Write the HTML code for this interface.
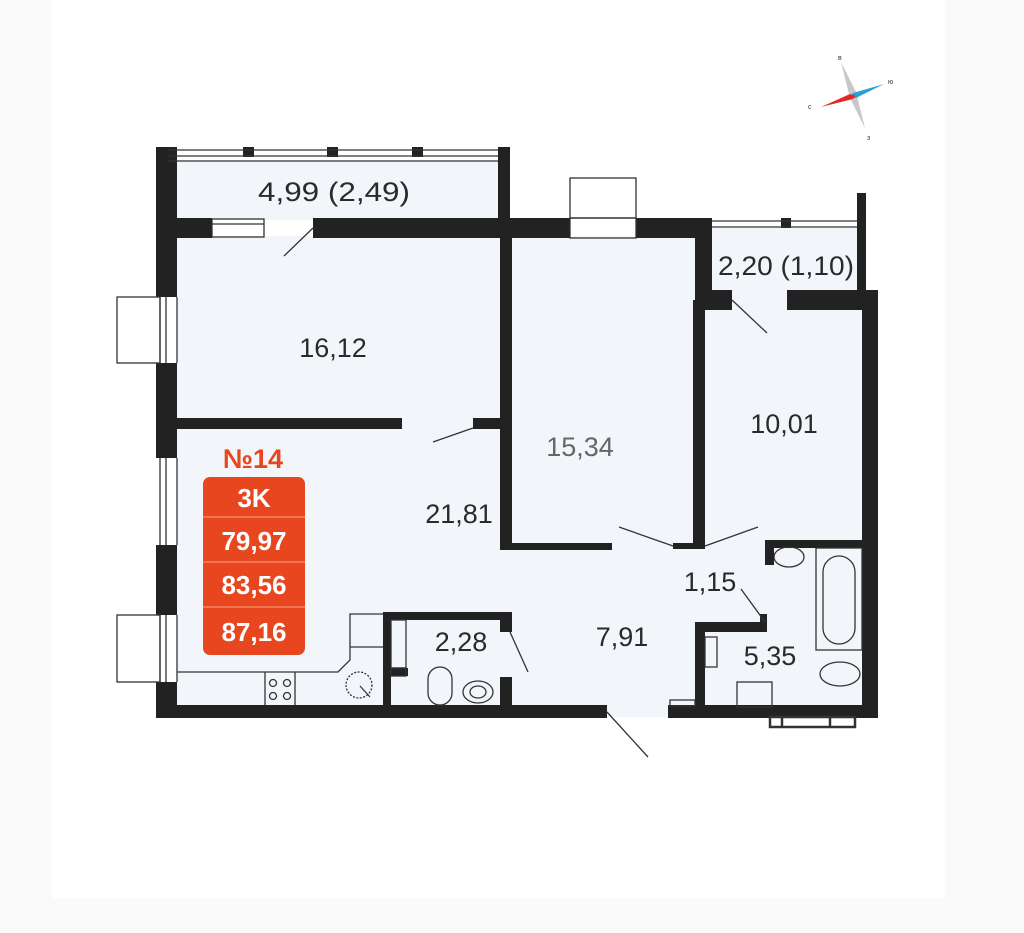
<!DOCTYPE html>
<html><head><meta charset="utf-8"><style>
html,body{margin:0;padding:0;background:#fafafa;}
svg{display:block;}
text{font-family:"Liberation Sans",sans-serif;}
</style></head><body>
<svg width="1024" height="933" viewBox="0 0 1024 933" xmlns="http://www.w3.org/2000/svg">
<rect x="0" y="0" width="1024" height="933" fill="#fafafa"/>
<rect x="52" y="0" width="893" height="898" fill="#ffffff"/>
<g fill="#f2f6fa">
<rect x="168" y="160" width="332" height="60"/>
<rect x="177" y="236" width="325" height="470"/>
<rect x="500" y="236" width="195" height="470"/>
<rect x="695" y="228" width="167" height="478"/>
<rect x="605" y="705" width="65" height="12"/>
</g>
<g fill="#222">
<rect x="156" y="147" width="21" height="150"/>
<rect x="156" y="363" width="21" height="95"/>
<rect x="156" y="545" width="21" height="70"/>
<rect x="156" y="682" width="21" height="35"/>
<rect x="156" y="705" width="451" height="13"/>
<rect x="668" y="705" width="210" height="13"/>
<rect x="862" y="290" width="16" height="428"/>
<rect x="857" y="193" width="9" height="100"/>
<rect x="498" y="147" width="12" height="90"/>
<rect x="243" y="147" width="11" height="10"/>
<rect x="327" y="147" width="11" height="10"/>
<rect x="412" y="147" width="11" height="10"/>
<rect x="156" y="218" width="56" height="20"/>
<rect x="313" y="218" width="257" height="20"/>
<rect x="636" y="218" width="76" height="20"/>
<rect x="695" y="218" width="17" height="92"/>
<rect x="695" y="290" width="37" height="20"/>
<rect x="787" y="290" width="91" height="20"/>
<rect x="781" y="218" width="10" height="10"/>
<rect x="500" y="236" width="12" height="314"/>
<rect x="500" y="543" width="112" height="7"/>
<rect x="177" y="418" width="225" height="11"/>
<rect x="473" y="418" width="29" height="11"/>
<rect x="693" y="300" width="12" height="248"/>
<rect x="673" y="543" width="32" height="6"/>
<rect x="765" y="540" width="97" height="8"/>
<rect x="765" y="540" width="9" height="25"/>
<rect x="695" y="622" width="70" height="10"/>
<rect x="695" y="622" width="10" height="96"/>
<rect x="760" y="614" width="7" height="18"/>
<rect x="383" y="612" width="127" height="8"/>
<rect x="383" y="612" width="8" height="100"/>
<rect x="383" y="668" width="25" height="8"/>
<rect x="500" y="612" width="12" height="20"/>
<rect x="500" y="677" width="12" height="35"/>
</g>
<g fill="none" stroke="#333" stroke-width="1.3">
<line x1="168" y1="150" x2="498" y2="150"/>
<line x1="168" y1="156" x2="498" y2="156"/>
<line x1="168" y1="161" x2="498" y2="161"/>
<line x1="712" y1="221" x2="857" y2="221"/>
<line x1="712" y1="227" x2="857" y2="227"/>
<rect x="212" y="219" width="52" height="18"/>
<line x1="212" y1="224" x2="264" y2="224"/>
<rect x="570" y="178" width="66" height="40"/>
<rect x="570" y="218" width="66" height="20"/>
<rect x="117" y="297" width="43" height="66"/>
<line x1="160" y1="297" x2="160" y2="363"/><line x1="166" y1="297" x2="166" y2="363"/><line x1="177" y1="297" x2="177" y2="363"/>
<line x1="160" y1="458" x2="160" y2="545"/><line x1="166" y1="458" x2="166" y2="545"/><line x1="177" y1="458" x2="177" y2="545"/>
<rect x="117" y="615" width="43" height="67"/>
<line x1="160" y1="615" x2="160" y2="682"/><line x1="166" y1="615" x2="166" y2="682"/><line x1="177" y1="615" x2="177" y2="682"/>
<rect x="770" y="717" width="85" height="10" stroke-width="2.5"/>
<line x1="782" y1="717" x2="782" y2="727" stroke-width="2.5"/><line x1="830" y1="717" x2="830" y2="727" stroke-width="2.5"/>
<line x1="313" y1="228" x2="284" y2="256"/>
<line x1="473" y1="428" x2="433" y2="442"/>
<line x1="732" y1="300" x2="767" y2="333"/>
<line x1="673" y1="546" x2="619" y2="527"/>
<line x1="705" y1="546" x2="758" y2="527"/>
<line x1="765" y1="622" x2="741" y2="589"/>
<line x1="510" y1="632" x2="528" y2="672"/>
<line x1="607" y1="712" x2="648" y2="757"/>
<polyline points="177,672 338,672 350,660 350,614 383,614"/>
<line x1="350" y1="647" x2="383" y2="647"/>
<line x1="265" y1="672" x2="265" y2="705"/>
<line x1="295" y1="672" x2="295" y2="705"/>
<circle cx="273" cy="683" r="3.5"/><circle cx="287" cy="683" r="3.5"/>
<circle cx="273" cy="696" r="3.5"/><circle cx="287" cy="696" r="3.5"/>
<circle cx="359" cy="685" r="13" stroke-dasharray="2 1.5"/>
<line x1="360" y1="686" x2="370" y2="697"/>
<rect x="391" y="620" width="15" height="48"/>
<rect x="391" y="668" width="15" height="8"/>
<rect x="428" y="667" width="24" height="38" rx="12"/>
<ellipse cx="478" cy="692" rx="15" ry="11"/>
<ellipse cx="478" cy="692" rx="8" ry="6"/>
<ellipse cx="789" cy="557" rx="15" ry="10"/>
<rect x="816" y="548" width="46" height="102"/>
<rect x="823" y="556" width="32" height="88" rx="16"/>
<ellipse cx="840" cy="674" rx="20" ry="12"/>
<rect x="737" y="682" width="35" height="25"/>
<rect x="705" y="637" width="12" height="30"/>
<rect x="670" y="700" width="25" height="6"/>
</g>
<g fill="#2a2a2a" font-size="27" text-anchor="middle">
<text x="334" y="201" textLength="152" lengthAdjust="spacingAndGlyphs">4,99 (2,49)</text>
<text x="333" y="357">16,12</text>
<text x="580" y="456" fill="#666">15,34</text>
<text x="784" y="433">10,01</text>
<text x="786" y="275" textLength="136" lengthAdjust="spacingAndGlyphs">2,20 (1,10)</text>
<text x="459" y="523">21,81</text>
<text x="710" y="591">1,15</text>
<text x="461" y="651">2,28</text>
<text x="622" y="646">7,91</text>
<text x="770" y="665">5,35</text>
</g>
<text x="253" y="468" fill="#e8461e" font-size="27" font-weight="bold" text-anchor="middle">№14</text>
<rect x="203" y="477" width="102" height="178" rx="7" fill="#e8461e"/>
<g stroke="#f7a585" stroke-width="1"><line x1="203" y1="517" x2="305" y2="517"/><line x1="203" y1="562" x2="305" y2="562"/><line x1="203" y1="607" x2="305" y2="607"/></g>
<g fill="#fff" font-size="26" font-weight="bold" text-anchor="middle">
<text x="254" y="507">3K</text>
<text x="254" y="550">79,97</text>
<text x="254" y="594">83,56</text>
<text x="254" y="641">87,16</text>
</g>
<g transform="translate(853,96)">
<polygon points="-12,-34 3,-4 12,32 -3,2" fill="#c8c8c8"/>
<polygon points="-3,0 0,-3 31,-12 3,2" fill="#2aa0d8"/>
<polygon points="3,0 0,3 -32,11 -3,-2" fill="#e02a2a"/>
<text x="-15" y="-36" font-size="7" fill="#333">в</text>
<text x="35" y="-12" font-size="7" fill="#333">ю</text>
<text x="-45" y="13" font-size="7" fill="#333">с</text>
<text x="14" y="44" font-size="7" fill="#333">з</text>
</g>
</svg>
</body></html>
